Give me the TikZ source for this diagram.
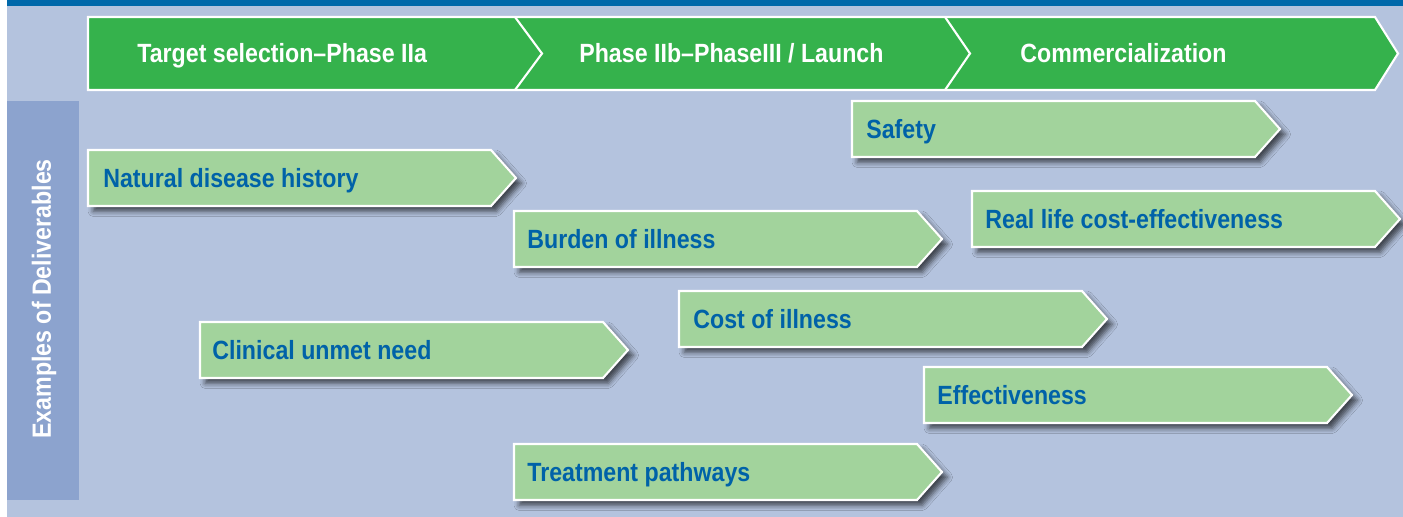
\documentclass[tikz,border=0pt]{standalone}
\usepackage{fontspec}
\setmainfont{Liberation Sans}[FakeStretch=0.88]
\usetikzlibrary{shadows.blur}
\definecolor{bgblue}{RGB}{180,195,222}
\definecolor{sideblue}{RGB}{140,163,206}
\definecolor{topblue}{RGB}{0,104,170}
\definecolor{phasegreen}{RGB}{53,178,76}
\definecolor{delivgreen}{RGB}{162,211,156}
\definecolor{delivblue}{RGB}{0,98,168}
\newcommand{\labelsize}{\fontsize{15}{18}\selectfont}
\tikzset{
    phasebar/.style={fill=phasegreen, draw=white, line width=1.2pt},
    phaseline/.style={draw=white, line width=1.2pt},
    phasetext/.style={anchor=base west, inner sep=0pt, text=white, font=\bfseries\labelsize},
    sidetext/.style={rotate=90, anchor=base, inner sep=0pt, text=white, font=\bfseries\labelsize},
    deliv/.style={fill=delivgreen, draw=white, line width=1.2pt,
        blur shadow={shadow xshift=3pt, shadow yshift=-3pt, shadow blur radius=3pt, shadow opacity=65}},
    delivtext/.style={anchor=base west, inner sep=0pt, text=delivblue, font=\bfseries\labelsize}
}
\begin{document}
\begin{tikzpicture}[x=0.02cm, y=-0.02cm]
    \useasboundingbox (0,0) rectangle (1403,517);
    \fill[white] (0,0) rectangle (1403,517);
    \fill[bgblue] (7,6) rectangle (1403,517);
    \fill[topblue] (7,0) rectangle (1403,6);
    \fill[sideblue] (7,101) rectangle (79,500);
    \node[sidetext] (examples) at (51,299) {Examples of Deliverables};
    \draw[phasebar] (88,17) -- (1375,17) -- (1398,53.5) -- (1375,90) -- (88,90) -- cycle;
    \draw[phaseline] (515,17) -- (542,53.5) -- (515,90);
    \draw[phaseline] (945,17) -- (970,53.5) -- (945,90);
    \node[phasetext] (target) at (137,63) {Target selection--Phase IIa};
    \node[phasetext] (launch) at (579,63) {Phase IIb--PhaseIII / Launch};
    \node[phasetext] (commercial) at (1020,63) {Commercialization};
    \begin{scope}[shift={(852,101)}]
        \draw[deliv] (0,0) -- (403,0) -- (428,28) -- (403,56) -- (0,56) -- cycle;
        \node[delivtext] (safety) at (14,37) {Safety};
    \end{scope}
    \begin{scope}[shift={(88,150)}]
        \draw[deliv] (0,0) -- (403,0) -- (428,28) -- (403,56) -- (0,56) -- cycle;
        \node[delivtext] (natural) at (15,37) {Natural disease history};
    \end{scope}
    \begin{scope}[shift={(972,191)}]
        \draw[deliv] (0,0) -- (403,0) -- (428,28) -- (403,56) -- (0,56) -- cycle;
        \node[delivtext] (reallife) at (13,37) {Real life cost-effectiveness};
    \end{scope}
    \begin{scope}[shift={(514,211)}]
        \draw[deliv] (0,0) -- (403,0) -- (428,28) -- (403,56) -- (0,56) -- cycle;
        \node[delivtext] (burden) at (13,37) {Burden of illness};
    \end{scope}
    \begin{scope}[shift={(679,291)}]
        \draw[deliv] (0,0) -- (403,0) -- (428,28) -- (403,56) -- (0,56) -- cycle;
        \node[delivtext] (cost) at (14,37) {Cost of illness};
    \end{scope}
    \begin{scope}[shift={(200,322)}]
        \draw[deliv] (0,0) -- (403,0) -- (428,28) -- (403,56) -- (0,56) -- cycle;
        \node[delivtext] (clinical) at (12,37) {Clinical unmet need};
    \end{scope}
    \begin{scope}[shift={(924,367)}]
        \draw[deliv] (0,0) -- (403,0) -- (428,28) -- (403,56) -- (0,56) -- cycle;
        \node[delivtext] (effect) at (13,37) {Effectiveness};
    \end{scope}
    \begin{scope}[shift={(514,444)}]
        \draw[deliv] (0,0) -- (403,0) -- (428,28) -- (403,56) -- (0,56) -- cycle;
        \node[delivtext] (treatment) at (13,37) {Treatment pathways};
    \end{scope}
\end{tikzpicture}
\end{document}
